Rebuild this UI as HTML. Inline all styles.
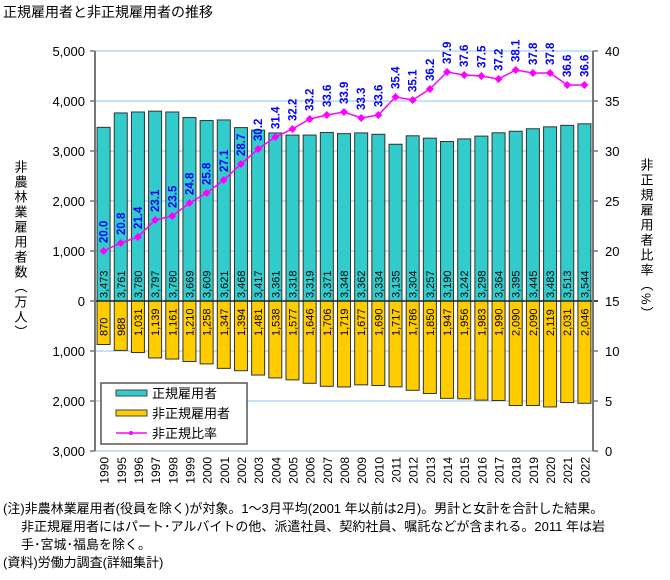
<!DOCTYPE html>
<html><head><meta charset="utf-8">
<style>
body{margin:0;background:#fff;width:670px;height:580px;overflow:hidden;font-family:"Liberation Sans","Noto Sans CJK JP",sans-serif;}
.t{position:absolute;white-space:nowrap;}
</style></head><body>
<div class="t" style="left:3px;top:2px;font-size:14px;color:#000;">正規雇用者と非正規雇用者の推移</div>
<svg id="chart" width="670" height="580" style="position:absolute;left:0;top:0" font-family="Liberation Sans, Noto Sans CJK JP, sans-serif"></svg>
<div class="t" style="left:3px;top:500px;font-size:13px;line-height:18px;color:#000;">(注)非農林業雇用者(役員を除く)が対象。1～3月平均(2001 年以前は2月)。男計と女計を合計した結果。<br>&nbsp;&nbsp;&nbsp;&nbsp;&nbsp;非正規雇用者にはパート･アルバイトの他、派遣社員、契約社員、嘱託などが含まれる。2011 年は岩<br>&nbsp;&nbsp;&nbsp;&nbsp;&nbsp;手･宮城･福島を除く。<br>(資料)労働力調査(詳細集計)</div>
<script>
const years=["1990","1995","1996","1997","1998","1999","2000","2001","2002","2003","2004","2005","2006","2007","2008","2009","2010","2011","2012","2013","2014","2015","2016","2017","2018","2019","2020","2021","2022"];
const regular=[3473,3761,3780,3797,3780,3669,3609,3621,3468,3417,3361,3318,3319,3371,3348,3362,3334,3135,3304,3257,3190,3242,3298,3364,3395,3445,3483,3513,3544];
const nonRegular=[870,988,1031,1139,1161,1210,1258,1347,1394,1481,1538,1577,1646,1706,1719,1677,1690,1717,1786,1850,1947,1956,1983,1990,2090,2090,2119,2031,2046];
const ratio=[20.0,20.8,21.4,23.1,23.5,24.8,25.8,27.1,28.7,30.2,31.4,32.2,33.2,33.6,33.9,33.3,33.6,35.4,35.1,36.2,37.9,37.6,37.5,37.2,38.1,37.8,37.8,36.6,36.6];
const leftTicks=[5000,4000,3000,2000,1000,0,-1000,-2000,-3000];
const rightTicks=[40,35,30,25,20,15,10,5,0];

const svg=document.getElementById('chart');
const NS='http://www.w3.org/2000/svg';
const X0=95,X1=593,Y0=301;
const step=(X1-X0)/years.length;
const yL=v=>Y0-v*0.05;
const yR=v=>51+(40-v)*10;
const xC=i=>X0+step*(i+0.5);
function mk(tag,at,parent){const e=document.createElementNS(NS,tag);for(const k in at)e.setAttribute(k,at[k]);(parent||svg).appendChild(e);return e;}
const fmt=v=>v.toLocaleString('en-US');

leftTicks.forEach(v=>{
 const g=mk('line',{x1:X0,x2:X1,y1:yL(v),y2:yL(v),stroke:'#c6e2fb','stroke-width':2});
 
 
 const tk=mk('line',{x1:X0-5,x2:X0,y1:yL(v),y2:yL(v),stroke:'#777','stroke-width':1.5});
 
 
 const t=mk('text',{x:X0-10,y:yL(v)+5,'text-anchor':'end','font-size':13,fill:'#000'});
 t.textContent=fmt(Math.abs(v));
 
 
});
rightTicks.forEach(v=>{
 const tk=mk('line',{x1:X1,x2:X1+5,y1:yR(v),y2:yR(v),stroke:'#777','stroke-width':1.5});
 
 
 const t=mk('text',{x:X1+12,y:yR(v)+5,'font-size':13,fill:'#000'});
 t.textContent=v;
 
 
});
const bw=13;
years.forEach((y,i)=>{
 const x=xC(i)-bw/2;
 const r=mk('rect',{x:x,y:yL(regular[i]),width:bw,height:Y0-yL(regular[i]),fill:'#33cccc',stroke:'#333','stroke-width':1});
 
 
 const n=mk('rect',{x:x,y:Y0,width:bw,height:yL(-nonRegular[i])-Y0,fill:'#ffcc00',stroke:'#333','stroke-width':1});
 
 
 const t1=mk('text',{transform:`translate(${xC(i)+4},${Y0-3}) rotate(-90)`,'font-size':11,fill:'#000'});
 t1.textContent=fmt(regular[i]);
 
 
 const t2=mk('text',{transform:`translate(${xC(i)+4},${Y0+35}) rotate(-90)`,'font-size':11,fill:'#000'});
 t2.textContent=fmt(nonRegular[i]);
 
 
 const yl=mk('text',{transform:`translate(${xC(i)+5},457) rotate(-90)`,'text-anchor':'end','font-size':12,fill:'#000'});
 yl.textContent=y;
 
 
});
const z=mk('line',{x1:X0,x2:X1+5,y1:Y0,y2:Y0,stroke:'#222','stroke-width':1.5});


const la=mk('line',{x1:X0,x2:X0,y1:51,y2:451,stroke:'#777','stroke-width':2});


const ra=mk('line',{x1:X1,x2:X1,y1:51,y2:451,stroke:'#777','stroke-width':2});


const pts=ratio.map((v,i)=>xC(i)+','+yR(v)).join(' ');
const pl=mk('polyline',{points:pts,fill:'none',stroke:'#ff00ff','stroke-width':1.5});


ratio.forEach((v,i)=>{
 const cx=xC(i),cy=yR(v);
 const d=mk('polygon',{points:`${cx},${cy-4} ${cx+4},${cy} ${cx},${cy+4} ${cx-4},${cy}`,fill:'#ff00ff'});
 
 
 const t=mk('text',{transform:`translate(${cx+4},${cy-8}) rotate(-90)`,'font-size':11.5,'font-weight':'bold',fill:'#0000ff'});
 t.textContent=v.toFixed(1);
 
 
});
const lg=mk('g',{});


mk('rect',{x:101,y:383,width:146,height:61,fill:'#fff',stroke:'#555','stroke-width':1.5},lg);
const items=[['正規雇用者','#33cccc','bar'],['非正規雇用者','#ffcc00','bar'],['非正規比率','#ff00ff','line']];
items.forEach((it,k)=>{
 const y=393+k*20;
 const g=mk('g',{},lg);
 
 
 if(it[2]==='bar') mk('rect',{x:116,y:y-3,width:31,height:6,fill:it[1],stroke:'#444'},g);
 else {mk('line',{x1:116,x2:147,y1:y,y2:y,stroke:it[1],'stroke-width':1.5},g);mk('circle',{cx:131,cy:y,r:2,fill:it[1]},g);}
 const t=mk('text',{x:152,y:y+5,'font-size':13,fill:'#000'},g);
 t.textContent=it[0];
});
const lt=mk('text',{x:20,y:160,'font-size':13,fill:'#000','writing-mode':'tb','glyph-orientation-vertical':0,'letter-spacing':2});
lt.textContent='非農林業雇用者数（万人）';


const rt=mk('text',{x:646,y:158,'font-size':13,fill:'#000','writing-mode':'tb','glyph-orientation-vertical':0,'letter-spacing':2});
rt.textContent='非正規雇用者比率（%）';


</script>
</body></html>
